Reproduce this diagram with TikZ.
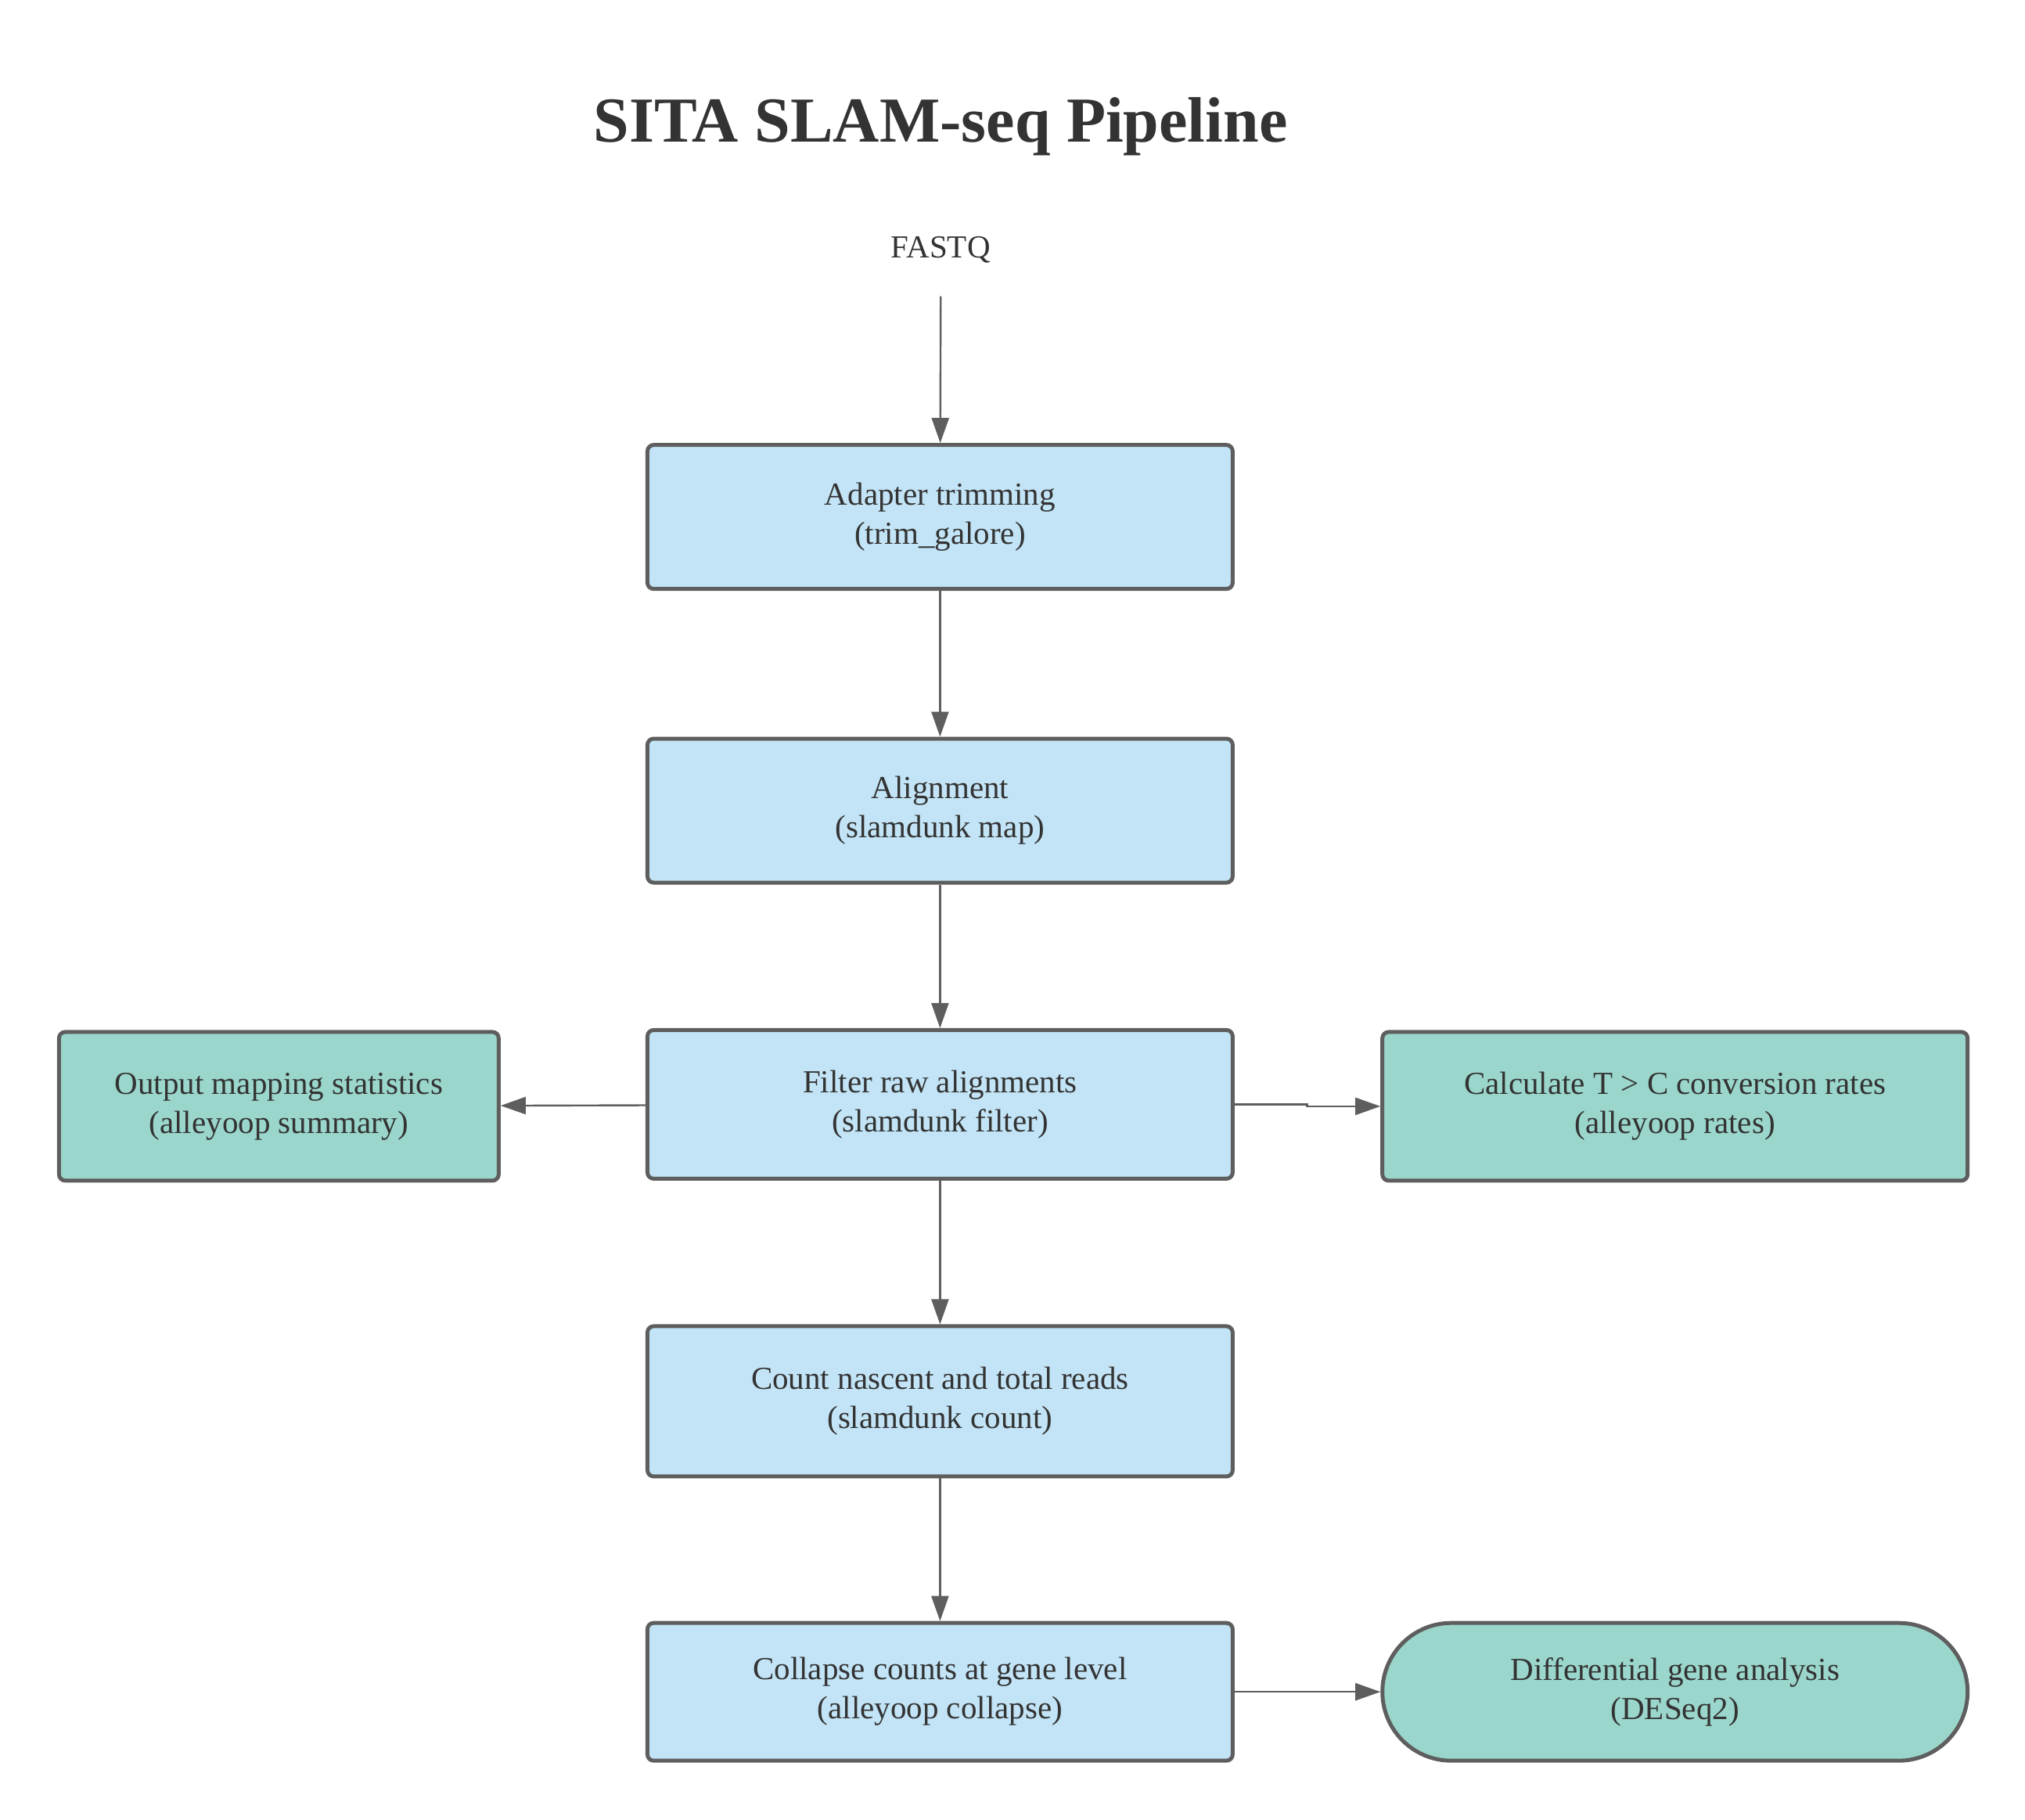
\documentclass[tikz,border=0pt]{standalone}
\usepackage{fontspec}
\setmainfont{Liberation Serif}
\usetikzlibrary{arrows.meta,shapes.misc}
\definecolor{stepblue}{HTML}{C2E4F6}
\definecolor{stepgreen}{HTML}{9AD6CB}
\definecolor{edgegray}{HTML}{5E5E5E}
\definecolor{textgray}{HTML}{333333}

\begin{document}
\begin{tikzpicture}[x=0.8269pt,y=-0.8269pt,
    every node/.style={text=textgray,font=\fontsize{20.5}{25}\selectfont,align=center},
    stepbox/.style={draw=edgegray,line width=2.5pt,rounded corners=4pt,fill=stepblue,
      minimum width=374pt,minimum height=95pt,inner sep=0pt},
    outbox/.style={stepbox,fill=stepgreen},
    endbox/.style={draw=edgegray,line width=2.5pt,fill=stepgreen,rounded rectangle,
      minimum width=374pt,minimum height=88pt,inner sep=0pt}]
      \useasboundingbox (0,0) rectangle (1565,1406);
      \draw
        (727,98) node[font=\bfseries\fontsize{41}{48}\selectfont] (title){SITA SLAM-seq Pipeline}
        (727,193) node[] (fastq){FASTQ}
        (727,229) coordinate (fastqend)
        (726.5,399.5) node[stepbox,minimum height=92pt] (trim){Adapter trimming\\(trim\_galore)}
        (726.5,626.5) node[stepbox,minimum height=92pt] (map){Alignment\\(slamdunk map)}
        (726.5,853.5) node[stepbox] (filter){Filter raw alignments\\(slamdunk filter)}
        (726.5,1083) node[stepbox,minimum height=96pt] (count){Count nascent and total reads\\(slamdunk count)}
        (726.5,1307.5) node[stepbox,minimum height=88pt] (collapse){Collapse counts at gene level\\(alleyoop collapse)}
        (215.5,855) node[outbox,minimum width=281pt] (summary){Output mapping statistics\\(alleyoop summary)}
        (1294.5,855) node[outbox] (rates){Calculate T > C conversion rates\\(alleyoop rates)}
        (1294.5,1307.5) node[endbox] (deseq){Differential gene analysis\\(DESeq2)};
      \begin{scope}[draw=edgegray,line width=1.2pt,-{Triangle[length=16pt,width=11pt]}]
        \draw (fastqend) -- (trim);
        \draw (trim) -- (map);
        \draw (map) -- (filter);
        \draw (filter) -- (count);
        \draw (count) -- (collapse);
        \draw (filter) -- (summary);
        \draw (filter.east) -- ++(56,0) |- (rates.west);
        \draw (collapse) -- (deseq);
      \end{scope}
    \end{tikzpicture}
\end{document}
